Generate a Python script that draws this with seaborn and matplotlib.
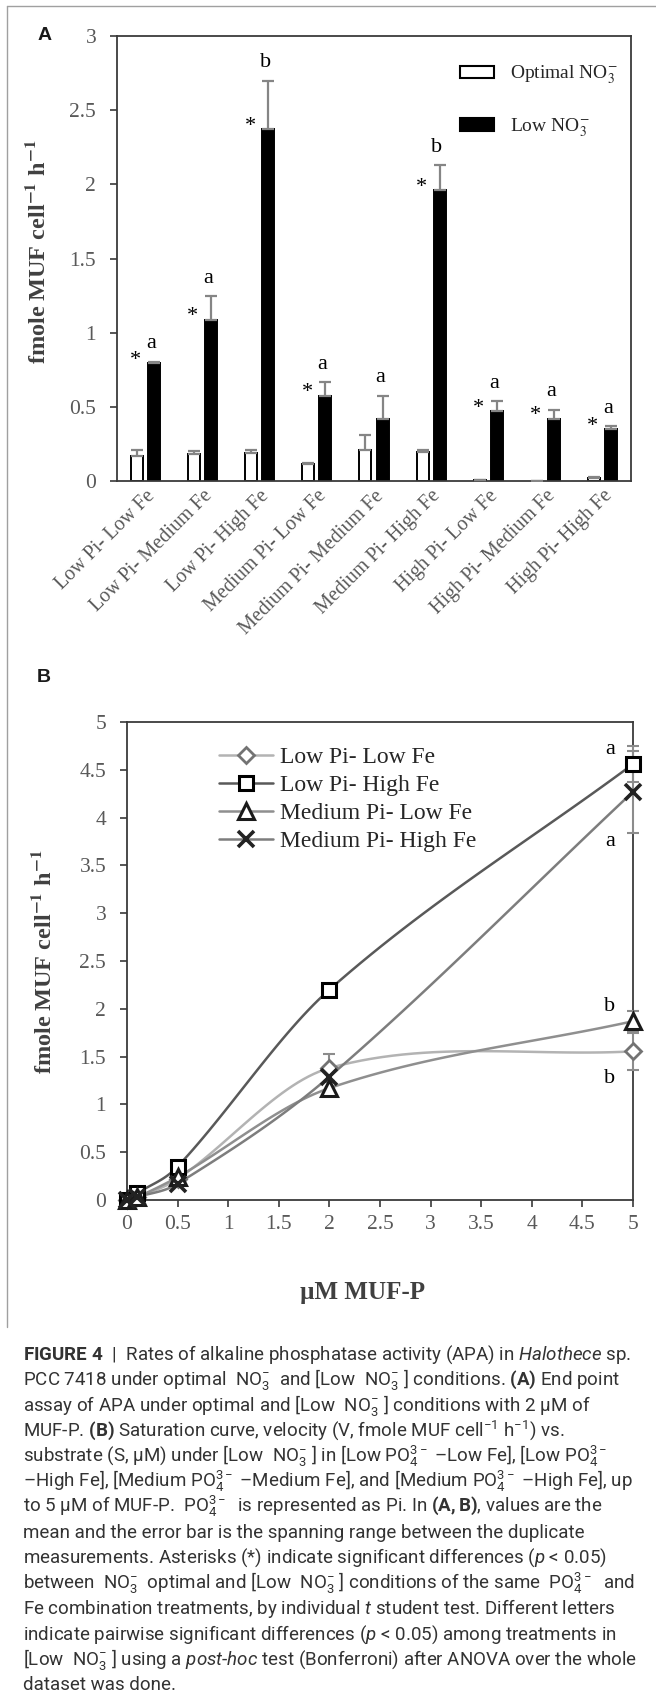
import numpy as np
import pandas as pd
import matplotlib
matplotlib.use("Agg")
import matplotlib.pyplot as plt
import seaborn as sns
from matplotlib.lines import Line2D
from matplotlib.patches import Patch
from matplotlib.font_manager import FontProperties

# ---------------- data : panel A ----------------
treatments = ["Low Pi- Low Fe", "Low Pi- Medium Fe", "Low Pi- High Fe",
              "Medium Pi- Low Fe", "Medium Pi- Medium Fe", "Medium Pi- High Fe",
              "High Pi- Low Fe", "High Pi- Medium Fe", "High Pi- High Fe"]
series_a = ["Optimal NO$_3^{-}$", "Low NO$_3^{-}$"]
optimal_no3 = [0.17, 0.18, 0.19, 0.115, 0.21, 0.195, 0.005, 0.003, 0.02]
optimal_err = [0.04, 0.02, 0.02, 0.005, 0.10, 0.015, 0.0, 0.0, 0.01]
low_no3 = [0.795, 1.086, 2.37, 0.575, 0.42, 1.96, 0.47, 0.42, 0.35]
low_err = [0.01, 0.16, 0.33, 0.09, 0.155, 0.17, 0.07, 0.06, 0.02]
letters_a = ["a", "a", "b", "a", "a", "b", "a", "a", "a"]
asterisk_a = [True, True, True, True, False, True, True, True, True]
yticks_a = [0, 0.5, 1, 1.5, 2, 2.5, 3]

# ---------------- data : panel B ----------------
series_b = ["Low Pi- Low Fe", "Low Pi- High Fe", "Medium Pi- Low Fe", "Medium Pi- High Fe"]
muf_p = [0, 0.1, 0.5, 2, 5]
lowpi_lowfe = [0, 0.03, 0.22, 1.38, 1.555]
lowpi_lowfe_err = [0, 0, 0, 0.15, 0.19]
lowpi_highfe = [0, 0.07, 0.35, 2.20, 4.56]
lowpi_highfe_err = [0, 0, 0, 0.03, 0.19]
medpi_lowfe = [0, 0.03, 0.24, 1.17, 1.87]
medpi_lowfe_err = [0, 0, 0, 0.07, 0.11]
medpi_highfe = [0, 0.03, 0.17, 1.29, 4.27]
medpi_highfe_err = [0, 0, 0, 0.05, 0.43]
letters_b = ["b", "a", "b", "a"]
letter_side_b = ["below", "above", "above", "below"]
ticks_b = [0, 0.5, 1, 1.5, 2, 2.5, 3, 3.5, 4, 4.5, 5]

caption_lines = [
    r"$\mathbf{FIGURE\ 4}$  |  Rates of alkaline phosphatase activity (APA) in $\mathit{Halothece}$ sp.",
    r"PCC 7418 under optimal  NO$_3^{-}$  and [Low  NO$_3^{-}$ ] conditions. $\mathbf{(A)}$ End point",
    r"assay of APA under optimal and [Low  NO$_3^{-}$ ] conditions with 2 µM of",
    r"MUF-P. $\mathbf{(B)}$ Saturation curve, velocity (V, fmole MUF cell$^{-1}$ h$^{-1}$) vs.",
    r"substrate (S, µM) under [Low  NO$_3^{-}$ ] in [Low PO$_4^{3-}$ –Low Fe], [Low PO$_4^{3-}$",
    r"–High Fe], [Medium PO$_4^{3-}$ –Medium Fe], and [Medium PO$_4^{3-}$ –High Fe], up",
    r"to 5 µM of MUF-P.  PO$_4^{3-}$  is represented as Pi. In $\mathbf{(A,B)}$, values are the",
    r"mean and the error bar is the spanning range between the duplicate",
    r"measurements. Asterisks (*) indicate significant differences ($\mathit{p}$ < 0.05)",
    r"between  NO$_3^{-}$  optimal and [Low  NO$_3^{-}$ ] conditions of the same  PO$_4^{3-}$  and",
    r"Fe combination treatments, by individual $\mathit{t}$ student test. Different letters",
    r"indicate pairwise significant differences ($\mathit{p}$ < 0.05) among treatments in",
    r"[Low  NO$_3^{-}$ ] using a $\mathit{post}$-$\mathit{hoc}$ test (Bonferroni) after ANOVA over the whole",
    r"dataset was done.",
]

# ---------------- style ----------------
sns.set_theme(style="white")
SERIF = ["Liberation Serif", "DejaVu Serif"]
plt.rcParams.update({
    "font.family": SERIF,
    "mathtext.fontset": "custom",
    "mathtext.rm": "Roboto",
    "mathtext.it": "Roboto:italic",
    "mathtext.bf": "Roboto:bold",
    "axes.linewidth": 1.3,
})
W, H = 656, 1698
fig = plt.figure(figsize=(W / 100, H / 100), dpi=100)


def fx(px):
    return px / W


def fy(py):
    return 1 - py / H


TICK_C = "#595959"
SPINE_C = "#3a3a3a"

# ---------------- panel A ----------------
axA = fig.add_axes([fx(117), fy(481), (631 - 117) / W, (481 - 36) / H])
dfA = pd.DataFrame({
    "treatment": treatments * 2,
    "condition": [series_a[0]] * len(treatments) + [series_a[1]] * len(treatments),
    "value": optimal_no3 + low_no3,
})
sns.barplot(data=dfA, x="treatment", y="value", hue="condition", order=treatments,
            hue_order=series_a, palette=["white", "black"], saturation=1,
            edgecolor="black", linewidth=1.4, width=0.6, gap=0.3,
            errorbar=None, legend=False, ax=axA)

bars = list(axA.patches)
opt_bars = sorted([p for p in bars if p.get_facecolor()[0] > 0.5], key=lambda p: p.get_x())
low_bars = sorted([p for p in bars if p.get_facecolor()[0] <= 0.5], key=lambda p: p.get_x())
xo = np.array([p.get_x() + p.get_width() / 2 for p in opt_bars])
xl = np.array([p.get_x() + p.get_width() / 2 for p in low_bars])

ekw = dict(fmt="none", ecolor="#858585", elinewidth=1.6, capsize=4.5, capthick=1.6, zorder=3)
axA.errorbar(xo, optimal_no3, yerr=[np.zeros(len(xo)), optimal_err], **ekw)
axA.errorbar(xl, low_no3, yerr=[np.zeros(len(xl)), low_err], **ekw)

for i in range(len(treatments)):
    top = low_no3[i] + low_err[i]
    axA.text(xl[i] - 0.05, top + 0.12, letters_a[i], ha="center", va="center",
             fontsize=16, color="black", family=SERIF)
    if asterisk_a[i]:
        axA.text(xo[i] - 0.02, low_no3[i] + 0.02, "*", ha="center", va="center",
                 fontsize=16, color="black", family=SERIF)

axA.set_ylim(0, 3)
axA.set_xlim(-0.5, len(treatments) - 0.5)
axA.set_yticks(yticks_a)
axA.set_yticklabels([f"{v:g}" for v in yticks_a])
axA.tick_params(axis="y", which="major", direction="out", length=5, width=1.2,
                color=SPINE_C, labelsize=15.5, labelcolor=TICK_C, pad=10, left=True)
axA.tick_params(axis="x", length=0, labelsize=14.5, labelcolor=TICK_C, pad=4)
for lab in axA.get_xticklabels():
    lab.set_rotation(45)
    lab.set_ha("right")
    lab.set_va("top")
    lab.set_rotation_mode("anchor")
for s in axA.spines.values():
    s.set_color(SPINE_C)
    s.set_linewidth(1.3)
axA.set_xlabel("")
axA.set_ylabel("fmole MUF cell$^{\\mathbf{-1}}$ h$^{\\mathbf{-1}}$", fontsize=17.5,
               fontweight="bold", color="#404040", math_fontfamily="stix")
axA.yaxis.label.set_rotation_mode("default")
axA.yaxis.label.set_va("center")
axA.yaxis.set_label_coords((38 - 117) / (631 - 117), (481 - 252) / (481 - 36))

legA_handles = [Patch(facecolor="white", edgecolor="black", linewidth=1.5),
                Patch(facecolor="black", edgecolor="black", linewidth=1.5)]
axA.legend(legA_handles, series_a, loc="upper left",
           bbox_to_anchor=(fx(450), fy(54)), bbox_transform=fig.transFigure,
           frameon=False, borderpad=0, handlelength=1.75, handleheight=0.6,
           handletextpad=0.85, labelspacing=1.55,
           prop=FontProperties(family=SERIF, size=14, math_fontfamily="stix"))

# ---------------- panel B ----------------
axB = fig.add_axes([fx(127), fy(1200), (633 - 127) / W, (1200 - 722) / H])


def smooth_curve(x, y, n=30):
    """Cubic Hermite rendering of a smoothed line through the data points."""
    x = np.asarray(x, float)
    y = np.asarray(y, float)
    m = np.zeros_like(y)
    m[0] = (y[1] - y[0]) / (x[1] - x[0])
    m[-1] = (y[-1] - y[-2]) / (x[-1] - x[-2])
    for i in range(1, len(x) - 1):
        m[i] = (y[i + 1] - y[i - 1]) / (x[i + 1] - x[i - 1])
    xs, ys = [], []
    for i in range(len(x) - 1):
        h = x[i + 1] - x[i]
        t = np.linspace(0, 1, n)
        h00 = 2 * t**3 - 3 * t**2 + 1
        h10 = t**3 - 2 * t**2 + t
        h01 = -2 * t**3 + 3 * t**2
        h11 = t**3 - t**2
        xs.append(x[i] + t * h)
        ys.append(h00 * y[i] + h10 * h * m[i] + h01 * y[i + 1] + h11 * h * m[i + 1])
    return np.concatenate(xs), np.concatenate(ys)


b_values = [lowpi_lowfe, lowpi_highfe, medpi_lowfe, medpi_highfe]
b_errors = [lowpi_lowfe_err, lowpi_highfe_err, medpi_lowfe_err, medpi_highfe_err]
b_styles = [
    dict(line="#b3b3b3", marker="D", ms=8.5, mec="#737373", mfc="white", mew=2.0),
    dict(line="#595959", marker="s", ms=10.5, mec="black", mfc="white", mew=2.2),
    dict(line="#8f8f8f", marker="^", ms=11, mec="#1a1a1a", mfc="white", mew=2.2),
    dict(line="#7d7d7d", marker="x", ms=11, mec="#222222", mfc="#222222", mew=2.6),
]

for vals, st in zip(b_values, b_styles):
    sx, sy = smooth_curve(muf_p, vals)
    sns.lineplot(x=sx, y=sy, color=st["line"], linewidth=1.8, sort=False,
                 estimator=None, ax=axB, zorder=2)
for vals, errs, st in zip(b_values, b_errors, b_styles):
    axB.errorbar(muf_p, vals, yerr=errs, fmt="none", ecolor="#8c8c8c",
                 elinewidth=1.5, capsize=4, capthick=1.5, zorder=3, clip_on=False)
for vals, st in zip(b_values, b_styles):
    sns.lineplot(x=muf_p, y=vals, linestyle="none", marker=st["marker"], markersize=st["ms"],
                 markeredgecolor=st["mec"], markerfacecolor=st["mfc"], markeredgewidth=st["mew"],
                 estimator=None, sort=False, ax=axB, zorder=4, clip_on=False)

for vals, errs, let, side in zip(b_values, b_errors, letters_b, letter_side_b):
    yv = vals[-1] + 0.15 if side == "above" else vals[-1] - errs[-1] - 0.09
    axB.text(muf_p[-1] - 0.23, yv, let, ha="center", va="center", fontsize=16,
             color="black", family=SERIF)

axB.set_xlim(0, 5)
axB.set_ylim(0, 5)
axB.set_xticks(ticks_b)
axB.set_xticklabels([f"{v:g}" for v in ticks_b])
axB.set_yticks(ticks_b)
axB.set_yticklabels([f"{v:g}" for v in ticks_b])
axB.tick_params(axis="both", direction="out", length=5, width=1.2, color=SPINE_C,
                labelsize=15.5, labelcolor=TICK_C, left=True, bottom=True)
axB.tick_params(axis="y", pad=10)
axB.tick_params(axis="x", pad=6)
for s in axB.spines.values():
    s.set_color(SPINE_C)
    s.set_linewidth(1.3)
axB.set_ylabel("fmole MUF cell$^{\\mathbf{-1}}$ h$^{\\mathbf{-1}}$", fontsize=17.5,
               fontweight="bold", color="#404040", math_fontfamily="stix")
axB.yaxis.label.set_rotation_mode("default")
axB.yaxis.label.set_va("center")
axB.yaxis.set_label_coords((44 - 127) / (633 - 127), (1200 - 962) / (1200 - 722))
axB.set_xlabel("µM MUF-P", fontsize=18, fontweight="bold", color="#404040")
axB.xaxis.label.set_va("center")
axB.xaxis.set_label_coords((363 - 127) / (633 - 127), (1200 - 1293) / (1200 - 722))

legB_handles = [Line2D([], [], color=st["line"], lw=1.8, marker=st["marker"], ms=st["ms"],
                       mec=st["mec"], mfc=st["mfc"], mew=st["mew"]) for st in b_styles]
axB.legend(legB_handles, series_b, loc="upper left",
           bbox_to_anchor=(fx(207), fy(735)), bbox_transform=fig.transFigure,
           frameon=False, borderpad=0, handlelength=2.3, handletextpad=0.3,
           labelspacing=0.27, prop=FontProperties(family=SERIF, size=17))

# ---------------- panel letters, frame, caption ----------------
fig.text(fx(45), fy(36), "A", fontsize=14, fontweight="bold", family="Liberation Sans",
         ha="center", va="center", color="#1a1a1a")
fig.text(fx(44), fy(678), "B", fontsize=14, fontweight="bold", family="Liberation Sans",
         ha="center", va="center", color="#1a1a1a")

fig.add_artist(Line2D([fx(7), fx(7)], [fy(6), fy(1327)], color="#a0a0a0", lw=1.0))
fig.add_artist(Line2D([fx(7), fx(656)], [fy(6), fy(6)], color="#a0a0a0", lw=1.0))

for k, line in enumerate(caption_lines):
    fig.text(fx(23), fy(1360 + 25.4 * k), line, fontsize=13.5, family=["Roboto", "DejaVu Sans"],
             color="#333333", ha="left", va="baseline", math_fontfamily="custom")

fig.savefig("out.png", dpi=100, facecolor="white")
